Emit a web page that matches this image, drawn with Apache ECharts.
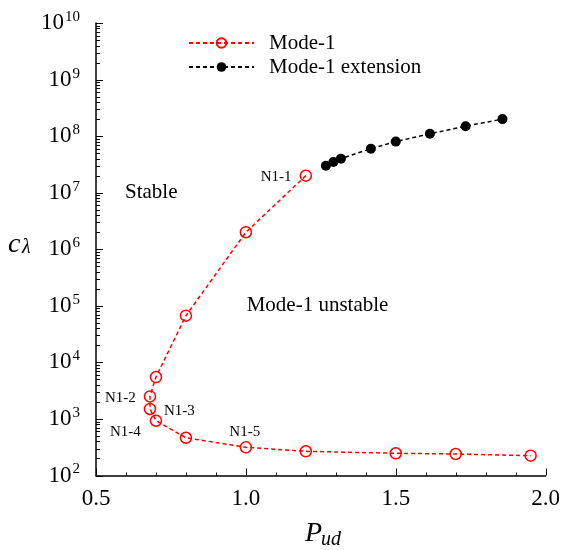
<!DOCTYPE html>
<html>
<head>
<meta charset="utf-8">
<script src="https://cdn.jsdelivr.net/npm/echarts@6/dist/echarts.min.js"></script>
<style>html,body{margin:0;padding:0;background:#fff;}#c{width:563px;height:550px;}</style>
</head>
<body>
<div id="c"></div>
<script>
// ---- data ----
const mode1X = [1.2, 1.0, 0.8, 0.7, 0.68, 0.68, 0.7, 0.8, 1.0, 1.2, 1.5, 1.7, 1.95];
const mode1Y = [2.0e7, 2.0e6, 6.7e4, 5.5e3, 2.5e3, 1.5e3, 930, 465, 315, 268, 247, 240, 224];
const extX = [1.267, 1.292, 1.317, 1.417, 1.5, 1.614, 1.733, 1.856];
const extY = [3.0e7, 3.5e7, 4.0e7, 6.0e7, 8.0e7, 1.1e8, 1.5e8, 2.0e8];
const seriesNames = ['Mode-1', 'Mode-1 extension'];
const xTickLabels = ['0.5', '1.0', '1.5', '2.0'];
const xMajorTicks = [0.5, 1.0, 1.5, 2.0];
const xMinorTicks = [0.6, 0.7, 0.8, 0.9, 1.1, 1.2, 1.3, 1.4, 1.6, 1.7, 1.8, 1.9];
const yMajorTicks = [1e2, 1e3, 1e4, 1e5, 1e6, 1e7, 1e8, 1e9, 1e10];
const yMinorTicks = [];
for (let e = 2; e < 10; e++) for (let k = 2; k <= 9; k++) yMinorTicks.push(k * Math.pow(10, e));

const FONT = '"Liberation Serif", serif';
const chart = echarts.init(document.getElementById('c'));
const pair = (xs, ys) => xs.map((x, i) => [x, ys[i]]);

// tick marks: [x, y, direction (0 = x-axis tick, 1 = y-axis tick), length]
const tickData = []
  .concat(xMajorTicks.map(v => [v, 1e2, 0, 7]))
  .concat(xMinorTicks.map(v => [v, 1e2, 0, 3]))
  .concat(yMajorTicks.map(v => [0.5, v, 1, 7]))
  .concat(yMinorTicks.map(v => [0.5, v, 1, 4]));

chart.setOption({
  animation: false,
  grid: {left: 96, top: 23, right: 16, bottom: 74.5},
  xAxis: {
    type: 'value', min: 0.5, max: 2.0, interval: 0.5,
    axisLine: {show: true, lineStyle: {color: '#000', width: 1.5}},
    axisTick: {show: false},
    splitLine: {show: false},
    axisLabel: {color: '#000', fontFamily: FONT, fontSize: 23, margin: 12,
      formatter: v => xTickLabels[Math.round((v - 0.5) / 0.5)] || ''}
  },
  yAxis: {
    type: 'log', logBase: 10, min: 1e2, max: 1e10,
    axisLine: {show: true, lineStyle: {color: '#000', width: 1.5}},
    axisTick: {show: false},
    splitLine: {show: false},
    axisLabel: {
      margin: 16, color: '#000',
      formatter: v => '{b|10}{s|' + Math.round(Math.log10(v)) + '}',
      rich: {
        b: {fontFamily: FONT, fontSize: 23, color: '#000'},
        s: {fontFamily: FONT, fontSize: 15, color: '#000', padding: [0, 0, 12, 1]}
      }
    }
  },
  legend: {
    orient: 'vertical', left: 183, top: 27,
    itemWidth: 65, itemHeight: 12, itemGap: 2,
    textStyle: {fontFamily: FONT, fontSize: 21, color: '#000', padding: [0, 0, 0, 10], lineHeight: 22},
    data: seriesNames
  },
  series: [{
    type: 'custom', name: 'ticks', silent: true, clip: false,
    data: tickData,
    encode: {x: 0, y: 1},
    renderItem: (params, api) => {
      const p = api.coord([api.value(0), api.value(1)]);
      const dir = api.value(2), len = api.value(3);
      const x = dir === 0 ? Math.round(p[0]) + 0.5 : p[0];
      const y = dir === 1 ? Math.round(p[1]) + 0.5 : p[1];
      return {
        type: 'line',
        shape: dir === 0 ? {x1: x, y1: y, x2: x, y2: y - len} : {x1: x, y1: y, x2: x + len, y2: y},
        style: {stroke: '#000', lineWidth: 1}
      };
    }
  }, {
    name: seriesNames[0], type: 'line',
    data: pair(mode1X, mode1Y),
    symbol: 'circle', symbolSize: 11,
    itemStyle: {color: 'rgba(255,255,255,0)', borderColor: '#ff0000', borderWidth: 1.5},
    lineStyle: {color: '#ff0000', width: 1.5, type: [4, 3]}
  }, {
    name: seriesNames[1], type: 'line',
    data: pair(extX, extY),
    symbol: 'circle', symbolSize: 10,
    itemStyle: {color: '#000', borderColor: '#000', borderWidth: 0},
    lineStyle: {color: '#000', width: 1.5, type: [4, 3]}
  }],
  graphic: [
    {type: 'text', style: {text: 'c', x: 8, y: 245, font: 'italic 28px ' + FONT, fill: '#000', verticalAlign: 'middle'}},
    {type: 'text', style: {text: 'λ', x: 22, y: 248, font: 'italic 20px ' + FONT, fill: '#000', verticalAlign: 'middle'}},
    {type: 'text', style: {text: 'P', x: 305, y: 533.5, font: 'italic 28px ' + FONT, fill: '#000', verticalAlign: 'middle'}},
    {type: 'text', style: {text: 'ud', x: 321, y: 540, font: 'italic 20px ' + FONT, fill: '#000', verticalAlign: 'middle'}},
    {type: 'text', style: {text: 'Stable', x: 125, y: 192.7, font: '21px ' + FONT, fill: '#000', verticalAlign: 'middle'}},
    {type: 'text', style: {text: 'Mode-1 unstable', x: 246.7, y: 305, font: '21px ' + FONT, fill: '#000', verticalAlign: 'middle'}},
    {type: 'text', style: {text: 'N1-1', x: 260.7, y: 176.7, font: '15px ' + FONT, fill: '#000', verticalAlign: 'middle'}},
    {type: 'text', style: {text: 'N1-2', x: 105, y: 398.3, font: '15px ' + FONT, fill: '#000', verticalAlign: 'middle'}},
    {type: 'text', style: {text: 'N1-3', x: 164, y: 410.7, font: '15px ' + FONT, fill: '#000', verticalAlign: 'middle'}},
    {type: 'text', style: {text: 'N1-4', x: 110, y: 431.7, font: '15px ' + FONT, fill: '#000', verticalAlign: 'middle'}},
    {type: 'text', style: {text: 'N1-5', x: 229.3, y: 431.7, font: '15px ' + FONT, fill: '#000', verticalAlign: 'middle'}}
  ]
});
</script>
</body>
</html>
